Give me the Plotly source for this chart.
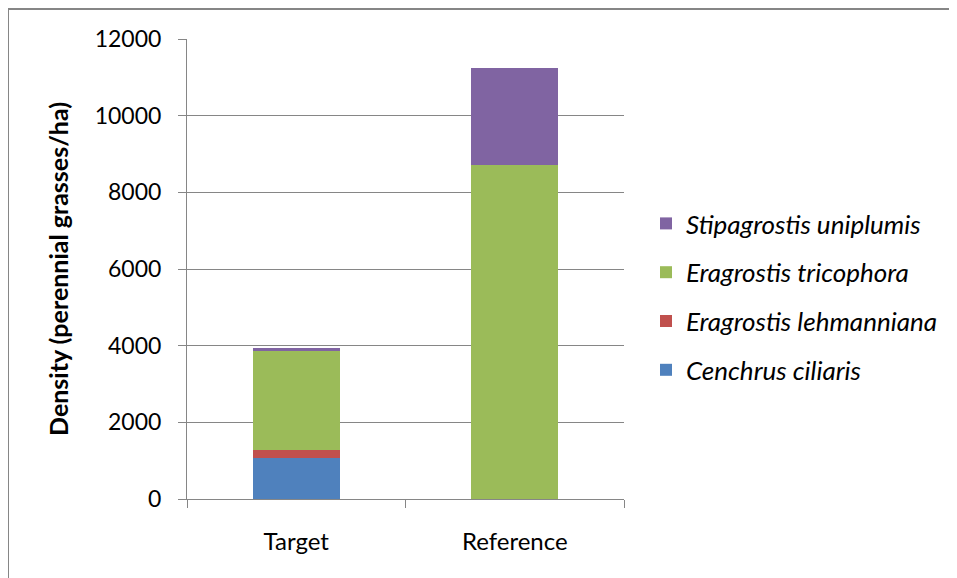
import plotly.graph_objects as go

categories = ["Target", "Reference"]
species = ["Cenchrus ciliaris", "Eragrostis lehmanniana", "Eragrostis tricophora", "Stipagrostis uniplumis"]
cenchrus = [1080, 0]
lehmanniana = [200, 0]
tricophora = [2580, 8710]
stipagrostis = [90, 2540]
colors = ["#4F81BD", "#C0504D", "#9BBB59", "#8064A2"]

series = [cenchrus, lehmanniana, tricophora, stipagrostis]
y_ticks = [0, 2000, 4000, 6000, 8000, 10000, 12000]

fig = go.Figure()
n = len(species)
for i, (name, vals, col) in enumerate(zip(species, series, colors)):
    fig.add_trace(go.Bar(
        x=categories, y=vals, name="<i>" + name + "</i>",
        marker=dict(color=col, line=dict(width=0)),
        width=0.4, legendgroup=name, legendrank=n - i,
    ))

FONT = "Lato, Liberation Sans, sans-serif"
OFF = 8  # page body margin
# target page positions of plot area
PL, PR, PT, PB = 187, 624, 39, 499
W, H = 957 - OFF, 578 - OFF
L = PL - OFF
T = PT - OFF
R = W + OFF - PR
B = H + OFF - PB
pw, ph = PR - PL, PB - PT

fig.update_layout(
    width=W, height=H, barmode="stack",
    margin=dict(l=L, r=R, t=T, b=B, pad=0),
    paper_bgcolor="white", plot_bgcolor="white",
    font=dict(family=FONT, size=18, color="#000000"),
    showlegend=True,
    legend=dict(
        traceorder="grouped", tracegroupgap=12,
        x=(646 - PL) / pw, y=(PB - 297) / ph, xanchor="left", yanchor="middle",
        font=dict(family=FONT, size=26, color="#000000"),
        itemwidth=30, bgcolor="rgba(0,0,0,0)",
    ),
    xaxis=dict(
        showline=True, linecolor="#868686", linewidth=1,
        ticks="outside", tickson="boundaries", ticklen=8, tickcolor="#868686",
        showgrid=False, tickfont=dict(size=24), ticklabelstandoff=21,
    ),
    yaxis=dict(
        range=[0, 12000], tickvals=y_ticks, ticktext=[str(v) for v in y_ticks],
        showline=True, linecolor="#868686", linewidth=1,
        ticks="outside", ticklen=8, tickcolor="#868686",
        showgrid=True, gridcolor="#868686", gridwidth=1,
        zeroline=False, tickfont=dict(size=23), ticklabelstandoff=12,
        title=dict(text="<b>Density (perennial grasses/ha)</b>", font=dict(size=25), standoff=18),
    ),
)

fig.add_shape(
    type="rect", xref="paper", yref="paper",
    x0=(8 - PL) / pw, x1=(950 - PL) / pw,
    y0=(PB - 640) / ph, y1=(PB - 9) / ph,
    line=dict(color="#868686", width=2), fillcolor="rgba(0,0,0,0)", layer="below",
)

fig.write_html("out.html")
